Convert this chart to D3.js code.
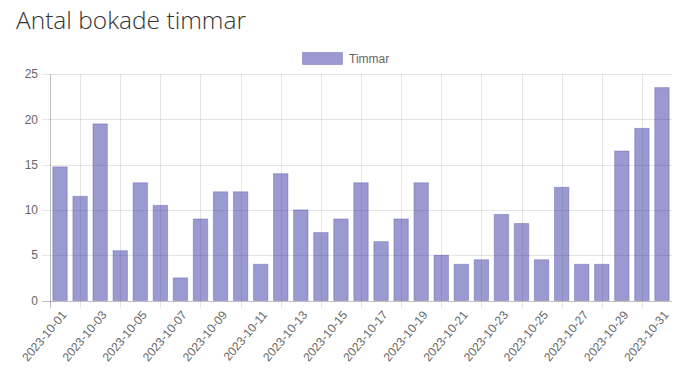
<!DOCTYPE html>
<html lang="sv">
<head>
<meta charset="UTF-8">
<title>Antal bokade timmar</title>
<script src="https://cdn.jsdelivr.net/npm/d3@7"></script>
<style>
  body { margin: 0; background: #fff; }
  #container { width: 690px; height: 390px; }
</style>
</head>
<body>
<div id="container"></div>
<script>
// data
const dates = ["2023-10-01","2023-10-02","2023-10-03","2023-10-04","2023-10-05","2023-10-06","2023-10-07",
  "2023-10-08","2023-10-09","2023-10-10","2023-10-11","2023-10-12","2023-10-13","2023-10-14","2023-10-15",
  "2023-10-16","2023-10-17","2023-10-18","2023-10-19","2023-10-20","2023-10-21","2023-10-22","2023-10-23",
  "2023-10-24","2023-10-25","2023-10-26","2023-10-27","2023-10-28","2023-10-29","2023-10-30","2023-10-31"]
const hours = [14.75, 11.5, 19.5, 5.5, 13, 10.5, 2.5, 9, 12, 12, 4, 14, 10, 7.5, 9,
  13, 6.5, 9, 13, 5, 4, 4.5, 9.5, 8.5, 4.5, 12.5, 4, 4, 16.5, 19, 23.5]
const yTicks = [0, 5, 10, 15, 20, 25]
const seriesName = "Timmar"

const w = 690, h = 390
const pLeft = 50, pRight = 672, pTop = 74, pBottom = 300.5
const tickFont = "'Helvetica Neue', Helvetica, Arial, sans-serif"
const grid = "rgba(0,0,0,0.1)"
const barFill = "rgba(54,54,162,0.5)"
const barStroke = "rgba(60,60,150,0.3)"

const svg = d3.select("#container").append("svg").attr("width", w).attr("height", h)

// title
svg.append("text").attr("x", 16).attr("y", 28.5)
  .attr("font-family", "'Open Sans', sans-serif").attr("font-weight", 300)
  .attr("font-size", 24.5).attr("fill", "#333").text("Antal bokade timmar")

// scales
const x = d3.scaleBand().domain(dates).range([pLeft, pRight])
const y = d3.scaleLinear().domain([0, 25]).range([pBottom, pTop])

// horizontal grid + y ticks
const yg = svg.append("g")
yg.selectAll("line").data(yTicks).join("line")
  .attr("x1", pLeft - 8).attr("x2", pRight)
  .attr("y1", d => Math.round(y(d)) + 0.5).attr("y2", d => Math.round(y(d)) + 0.5)
  .attr("stroke", d => d === 0 ? "rgba(0,0,0,0.25)" : grid)
yg.selectAll("text").data(yTicks).join("text")
  .attr("x", 38).attr("y", d => y(d)).attr("dy", "0.35em")
  .attr("text-anchor", "end").attr("font-family", tickFont).attr("font-size", 12)
  .attr("fill", "#666").text(d => d)

// vertical grid: left border + a line half a tick-step before each shown label (every 2nd)
const shown = dates.filter((d, i) => i % 2 === 0)
const vlines = [pLeft].concat(dates.filter((d, i) => i % 2 === 1).map(d => x(d) + x.bandwidth() / 2))
svg.append("g").selectAll("line").data(vlines).join("line")
  .attr("x1", d => Math.round(d) + 0.5).attr("x2", d => Math.round(d) + 0.5)
  .attr("y1", pTop).attr("y2", pBottom + 8)
  .attr("stroke", (d, i) => i === 0 ? "rgba(0,0,0,0.25)" : grid)

// bars
const bw = x.bandwidth() * 0.72
svg.append("g").selectAll("rect").data(hours).join("rect")
  .attr("x", (d, i) => x(dates[i]) + (x.bandwidth() - bw) / 2)
  .attr("y", d => y(d))
  .attr("width", bw)
  .attr("height", d => y(0) - y(d))
  .attr("fill", barFill).attr("stroke", barStroke).attr("stroke-width", 1)

// x tick labels, rotated
svg.append("g").selectAll("text").data(shown).join("text")
  .attr("transform", d => `translate(${x(d) + x.bandwidth() / 2 + 4},${pBottom + 12}) rotate(-50)`)
  .attr("text-anchor", "end").attr("dy", "0.35em")
  .attr("font-family", tickFont).attr("font-size", 12).attr("fill", "#666")
  .text(d => d)

// legend
const lg = svg.append("g")
lg.append("rect").attr("x", 302.5).attr("y", 52.5).attr("width", 40).attr("height", 12)
  .attr("fill", barFill).attr("stroke", barStroke)
lg.append("text").attr("x", 349).attr("y", 58.5).attr("dy", "0.35em")
  .attr("font-family", tickFont).attr("font-size", 12).attr("fill", "#666").text(seriesName)
</script>
</body>
</html>
